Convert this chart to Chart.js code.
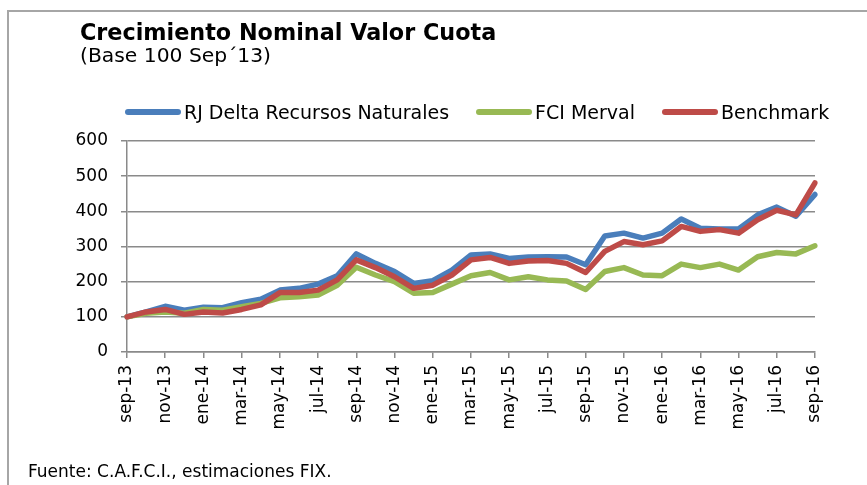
<!DOCTYPE html>
<html>
<head>
<meta charset="utf-8">
<script src="https://cdn.jsdelivr.net/npm/chart.js@4.4.1/dist/chart.umd.min.js"></script>
<style>
  html, body { margin: 0; padding: 0; background: #fff; }
  #wrap { position: relative; width: 867px; height: 485px; overflow: hidden; background: #fff; }
  #frame { position: absolute; left: 7px; top: 10px; width: 900px; height: 520px; border: 2px solid #a6a6a6; box-sizing: border-box; }
  canvas { position: absolute; left: 0; top: 0; }
  .txt { position: absolute; font-family: "DejaVu Sans", sans-serif; color: #000; white-space: nowrap; }
  #title { left: 80px; top: 21px; font-size: 22.3px; line-height: 22px; font-weight: bold; }
  #subtitle { left: 80px; top: 45px; font-size: 20.3px; line-height: 20px; }
  #footer { left: 28px; top: 463px; font-size: 17px; line-height: 17px; }
  #legend { position: absolute; left: 125px; top: 101px; height: 22px; display: flex; align-items: center; font-family: "DejaVu Sans", sans-serif; font-size: 19px; line-height: 22px; }
  .item { display: flex; align-items: center; margin-right: 27px; }
  .sw { width: 56px; height: 5.5px; border-radius: 3px; margin-right: 3px; }
</style>
</head>
<body>
<div id="wrap">
  <div id="frame"></div>
  <canvas id="c" width="867" height="485"></canvas>
  <div class="txt" id="title">Crecimiento Nominal Valor Cuota</div>
  <div class="txt" id="subtitle">(Base 100 Sep´13)</div>
  <div id="legend"></div>
  <div class="txt" id="footer">Fuente: C.A.F.C.I., estimaciones FIX.</div>
</div>
<script>
// ---- data ----
const months = ["sep-13","oct-13","nov-13","dic-13","ene-14","feb-14","mar-14","abr-14","may-14","jun-14","jul-14","ago-14",
  "sep-14","oct-14","nov-14","dic-14","ene-15","feb-15","mar-15","abr-15","may-15","jun-15","jul-15","ago-15",
  "sep-15","oct-15","nov-15","dic-15","ene-16","feb-16","mar-16","abr-16","may-16","jun-16","jul-16","ago-16","sep-16"];
const seriesNames = ["RJ Delta Recursos Naturales", "FCI Merval", "Benchmark"];
const rjDelta = [100,114,130,119,127,126,140,150,176,181,193,217,279,252,229,195,203,233,276,279,266,270,271,270,248,330,338,324,338,378,352,350,350,390,412,386,448];
const fciMerval = [100,110,114,110,121,119,129,138,154,157,162,190,241,219,200,167,169,193,217,226,205,214,205,202,178,229,240,219,217,250,240,250,233,271,283,279,302];
const benchmark = [100,114,121,107,114,111,121,134,169,169,176,205,262,240,214,181,190,219,262,269,252,259,260,252,226,286,314,305,316,357,343,348,338,376,403,390,481];
const yTicks = [0,100,200,300,400,500,600];

const colors = ["#4A7EBB", "#98B954", "#BE4B48"];
const values = [rjDelta, fciMerval, benchmark];
const drawOrder = [3, 2, 1];

const datasets = seriesNames.map((name, k) => ({
  label: name,
  data: values[k],
  borderColor: colors[k],
  backgroundColor: colors[k],
  borderWidth: 5.5,
  pointRadius: 0,
  tension: 0,
  borderJoinStyle: 'round',
  borderCapStyle: 'round',
  order: drawOrder[k]
}));

// HTML legend built from the series
const leg = document.getElementById('legend');
seriesNames.forEach((name, k) => {
  const it = document.createElement('div'); it.className = 'item';
  const sw = document.createElement('div'); sw.className = 'sw'; sw.style.background = colors[k];
  const tx = document.createElement('span'); tx.textContent = name;
  it.appendChild(sw); it.appendChild(tx); leg.appendChild(it);
});

const gridGray = '#8a8a8a';
new Chart(document.getElementById('c'), {
  type: 'line',
  data: { labels: months, datasets },
  options: {
    responsive: false,
    animation: false,
    devicePixelRatio: 1,
    layout: { padding: { top: 141, right: 52, left: 0, bottom: 0 } },
    plugins: { legend: { display: false }, tooltip: { enabled: false }, title: { display: false } },
    scales: {
      x: {
        offset: false,
        grid: { drawOnChartArea: false, drawTicks: true, tickLength: 6, lineWidth: 1.5,
                tickColor: ctx => (ctx.index % 2 === 0 ? gridGray : 'rgba(0,0,0,0)') },
        border: { display: true, color: gridGray, width: 1.5 },
        ticks: {
          autoSkip: false, maxRotation: 90, minRotation: 90, padding: 7,
          color: '#000', font: { family: 'DejaVu Sans', size: 17 },
          callback: (v, i) => (i % 2 === 0 ? months[i] : '')
        },
        afterFit: s => { s.height = 133; }
      },
      y: {
        min: 0, max: 600,
        afterBuildTicks: s => { s.ticks = yTicks.map(v => ({ value: v })); },
        grid: { color: gridGray, lineWidth: 1.5, drawTicks: true, tickLength: 6 },
        border: { display: true, color: gridGray, width: 1.5 },
        ticks: { color: '#000', padding: 13, font: { family: 'DejaVu Sans', size: 17 } },
        afterFit: s => { s.width = 127; }
      }
    }
  }
});
</script>
</body>
</html>
